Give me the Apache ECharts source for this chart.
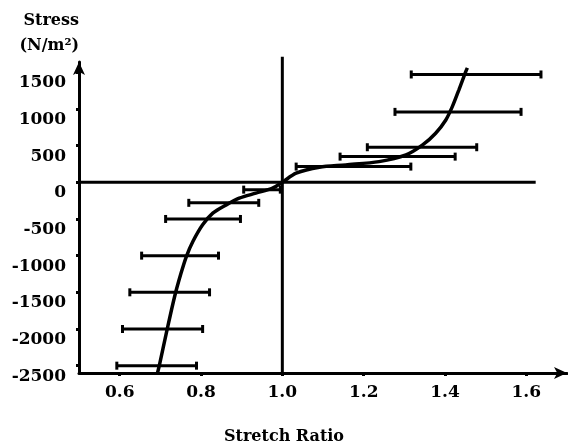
<!DOCTYPE html>
<html>
<head>
<meta charset="utf-8">
<script src="https://cdn.jsdelivr.net/npm/echarts@6/dist/echarts.min.js"></script>
<style>
  html, body { margin: 0; padding: 0; background: #fff; }
  #chart { width: 568px; height: 446px; }
</style>
</head>
<body>
<div id="chart"></div>
<script>
// tick labels
var xTicks = [0.6, 0.8, 1.0, 1.2, 1.4, 1.6];
var yTicks = [-2500, -2000, -1500, -1000, -500, 0, 500, 1000, 1500];

// fitted stress-stretch curve
var curveStretch = [0.693, 0.698, 0.715, 0.735, 0.751, 0.764, 0.780, 0.804, 0.829, 0.862, 0.894, 0.935, 0.976, 1.0,
                    1.034, 1.091, 1.156, 1.238, 1.304, 1.345, 1.377, 1.402, 1.418, 1.434, 1.451, 1.455];
var curveStress  = [-2600, -2485, -2050, -1560, -1238, -1012, -808, -580, -421, -308, -217, -148, -80, 0,
                    124, 205, 237, 282, 373, 509, 669, 850, 1031, 1258, 1508, 1560];

// horizontal error bars (stress level, stretch low, stretch high)
var barStress = [1470, 960, 478, 350, 214, -100, -280, -500, -1000, -1500, -2000, -2500];
var barLow    = [1.317, 1.277, 1.209, 1.142, 1.034, 0.905, 0.770, 0.713, 0.654, 0.625, 0.607, 0.593];
var barHigh   = [1.636, 1.587, 1.478, 1.425, 1.316, 0.995, 0.942, 0.897, 0.843, 0.821, 0.804, 0.789];

// reference lines
var zeroLineX = [0.5, 1.623];
var unityLineY = [-2600, 1710];

var chart = echarts.init(document.getElementById('chart'));
var font = 'DejaVu Serif';

var curveData = curveStretch.map(function (x, i) { return [x, curveStress[i]]; });
var barData = barStress.map(function (s, i) { return [s, barLow[i], barHigh[i]]; });

var option = {
  backgroundColor: '#fff',
  animation: false,
  grid: { left: 79, right: 1, top: 62, bottom: 73, outerBoundsMode: 'none' },
  xAxis: {
    type: 'value',
    min: 0.5,
    max: 1.7,
    name: 'Stretch Ratio',
    nameLocation: 'middle',
    nameGap: 56,
    nameTextStyle: { fontFamily: font, fontWeight: 'bold', fontSize: 16, color: '#000', padding: [0, 78, 0, 0] },
    splitLine: { show: false },
    axisLine: { onZero: false, lineStyle: { color: '#000', width: 3 }, symbol: ['none', 'arrow'], symbolSize: [9, 13] },
    axisTick: { customValues: xTicks, length: 3, lineStyle: { color: '#000', width: 3 } },
    axisLabel: {
      customValues: xTicks,
      margin: 11,
      fontFamily: font, fontWeight: 'bold', fontSize: 17, color: '#000',
      formatter: function (v) { return v.toFixed(1); }
    }
  },
  yAxis: {
    type: 'value',
    min: -2600,
    max: 1640,
    name: 'Stress\n(N/m²)',
    nameLocation: 'end',
    nameGap: 4,
    nameTextStyle: { fontFamily: font, fontWeight: 'bold', fontSize: 16, color: '#000', align: 'right', verticalAlign: 'bottom', lineHeight: 25 },
    splitLine: { show: false },
    axisLine: { onZero: false, lineStyle: { color: '#000', width: 3 }, symbol: ['none', 'arrow'], symbolSize: [9, 13] },
    axisTick: { customValues: yTicks, length: 3, lineStyle: { color: '#000', width: 3 } },
    axisLabel: {
      customValues: yTicks,
      margin: 13,
      verticalAlign: 'top',
      padding: [2, 0, 0, 0],
      fontFamily: font, fontWeight: 'bold', fontSize: 17, color: '#000',
      formatter: function (v) { return String(v); }
    }
  },
  series: [
    {
      type: 'line',
      data: [[zeroLineX[0], 0], [zeroLineX[1], 0]],
      symbol: 'none',
      clip: false,
      lineStyle: { color: '#000', width: 3 }
    },
    {
      type: 'line',
      data: [[1.0, unityLineY[0]], [1.0, unityLineY[1]]],
      symbol: 'none',
      clip: false,
      lineStyle: { color: '#000', width: 3 }
    },
    {
      type: 'line',
      data: curveData,
      symbol: 'none',
      smooth: 0.3,
      lineStyle: { color: '#000', width: 3.5 }
    },
    {
      type: 'custom',
      data: barData,
      encode: { x: [1, 2], y: 0 },
      renderItem: function (params, api) {
        var p1 = api.coord([api.value(1), api.value(0)]);
        var p2 = api.coord([api.value(2), api.value(0)]);
        var c = 4;
        var st = { stroke: '#000', lineWidth: 3 };
        return {
          type: 'group',
          children: [
            { type: 'line', shape: { x1: p1[0], y1: p1[1], x2: p2[0], y2: p2[1] }, style: st },
            { type: 'line', shape: { x1: p1[0], y1: p1[1] - c, x2: p1[0], y2: p1[1] + c }, style: st },
            { type: 'line', shape: { x1: p2[0], y1: p2[1] - c, x2: p2[0], y2: p2[1] + c }, style: st }
          ]
        };
      }
    }
  ]
};

chart.setOption(option);
</script>
</body>
</html>
